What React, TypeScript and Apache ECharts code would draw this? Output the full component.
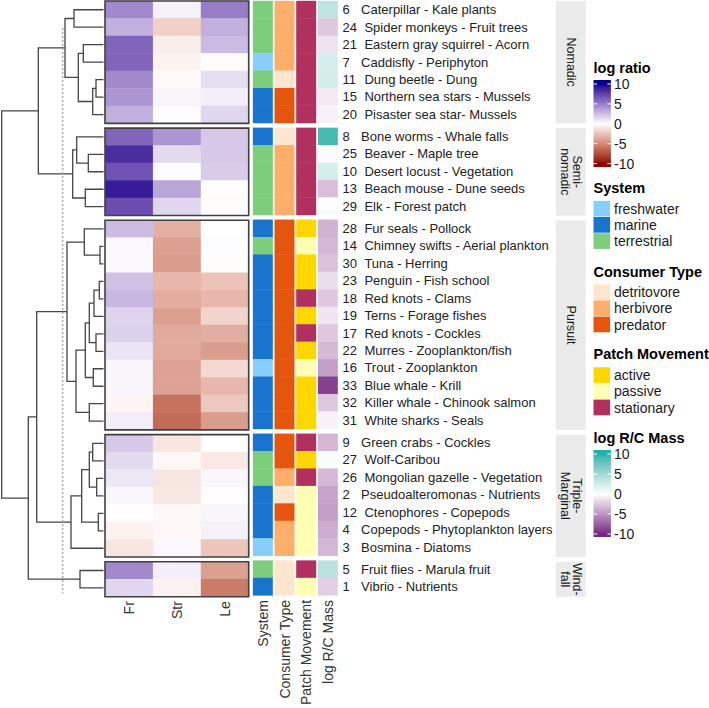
import React, { useEffect, useRef } from "react";
import * as echarts from "echarts";

// ---------------- data ----------------
const heatColumns = ["Fr", "Str", "Le"];
const annotationColumns = ["System", "Consumer Type", "Patch Movement", "log R/C Mass"];
const groupNames = ["Nomadic", "Semi-\nnomadic", "Pursuit", "Triple-\nMarginal", "Wind-\nfall"];
const groupSizes = [7, 5, 12, 7, 2];
const rowIds = [6, 24, 21, 7, 11, 15, 20, 8, 25, 10, 13, 29, 28, 14, 30, 23, 18, 19, 17, 22, 16, 33, 32, 31, 9, 27, 26, 2, 12, 4, 3, 5, 1];
const rowNames = [
  "Caterpillar - Kale plants", "Spider monkeys - Fruit trees", "Eastern gray squirrel - Acorn", "Caddisfly - Periphyton",
  "Dung beetle - Dung", "Northern sea stars - Mussels", "Pisaster sea star- Mussels",
  "Bone worms - Whale falls", "Beaver - Maple tree", "Desert locust - Vegetation", "Beach mouse - Dune seeds", "Elk - Forest patch",
  "Fur seals - Pollock", "Chimney swifts - Aerial plankton", "Tuna - Herring", "Penguin - Fish school", "Red knots - Clams",
  "Terns - Forage fishes", "Red knots - Cockles", "Murres - Zooplankton/fish", "Trout - Zooplankton", "Blue whale - Krill",
  "Killer whale - Chinook salmon", "White sharks - Seals",
  "Green crabs - Cockles", "Wolf-Caribou", "Mongolian gazelle - Vegetation", "Pseudoalteromonas - Nutrients",
  "Ctenophores - Copepods", "Copepods - Phytoplankton layers", "Bosmina - Diatoms",
  "Fruit flies - Marula fruit", "Vibrio - Nutrients",
];
const frValues = [4.5, 3, 6, 6, 4.5, 4, 3, 6, 8.3, 6.8, 9, 7, 2.5, 0.2, 0.2, 2.3, 2.7, 1.6, 1.7, 1, 0.4, 0.4, -0.4, 0.6, 2, 1.4, 0.9, 0.3, 0.05, -0.5, -1.1, 4.5, 1.5];
const strValues = [0.5, -2, -0.7, -0.5, -0.2, 0.4, 0.1, 4, 1.4, 0.1, 3.4, 1.5, -3.3, -4, -4.2, -3, -3.5, -4, -3.6, -3.6, -3.9, -3.9, -6, -6.3, -1.1, -0.35, -1.1, -1, -0.25, -0.35, 0.25, 0.6, -0.5];
const leValues = [5, 3, 2.5, -0.1, 1.2, 0.6, 1.5, 2, 2, 1.9, 0.05, -0.15, 0, 0.15, -0.1, -2.5, -3, -1.8, -3.4, -4.2, -1.6, -3, -2.3, -4.2, 0, -0.9, 0.3, 0, 0.35, 0.5, -2.4, -4, -5.6];
const systemValues = [
  "terrestrial", "terrestrial", "terrestrial", "freshwater", "terrestrial", "marine", "marine",
  "marine", "terrestrial", "terrestrial", "terrestrial", "terrestrial",
  "marine", "terrestrial", "marine", "marine", "marine", "marine", "marine", "marine", "freshwater", "marine", "marine", "marine",
  "marine", "terrestrial", "terrestrial", "marine", "marine", "marine", "freshwater",
  "terrestrial", "marine",
];
const consumerValues = [
  "herbivore", "herbivore", "herbivore", "herbivore", "detritovore", "predator", "predator",
  "detritovore", "herbivore", "herbivore", "herbivore", "herbivore",
  "predator", "predator", "predator", "predator", "predator", "predator", "predator", "predator", "predator", "predator", "predator", "predator",
  "predator", "predator", "herbivore", "detritovore", "predator", "herbivore", "herbivore",
  "detritovore", "detritovore",
];
const patchValues = [
  "stationary", "stationary", "stationary", "stationary", "stationary", "stationary", "stationary",
  "stationary", "stationary", "stationary", "stationary", "stationary",
  "active", "passive", "active", "active", "stationary", "active", "stationary", "active", "passive", "active", "active", "active",
  "stationary", "active", "stationary", "passive", "passive", "passive", "passive",
  "stationary", "passive",
];
const rcMassValues = [3.5, -2.5, -1.3, 2.2, 2.5, -1, -0.6, 9, -0.2, 2.2, -3, 0.2, -3.5, -3.3, -2.8, -1.5, -2.5, -1.2, -2.5, -3.2, -4.5, -9, -2.5, -0.6, -3.3, 0.4, -3.2, -4.2, -4.5, -3.8, -3.3, 3.8, -2.2];
const systemCategories = ["freshwater", "marine", "terrestrial"];
const consumerCategories = ["detritovore", "herbivore", "predator"];
const patchCategories = ["active", "passive", "stationary"];
const legendTicks = [10, 5, 0, -5, -10];
// dendrogram merges: [node, child, child, height]; numeric children are row ids
const dendroMerges: [string, number | string, number | string, number][] = [
  ["A", 6, 24, 29.5], ["B", 21, 7, 20.2], ["C", 11, 15, 7.5], ["D", "C", 20, 10.8], ["E", "B", "D", 25.2], ["F", "A", "E", 38.5],
  ["I", 25, 10, 15.2], ["J", 8, "I", 26.8], ["K", 13, 29, 18.2], ["H", "J", "K", 30.8], ["G", "F", "H", 65.2],
  ["P", 14, 30, 3.5], ["Q", 28, "P", 19.2], ["W", 23, 18, 4.2], ["X", "W", 19, 9.5], ["Y", 17, 22, 7.5], ["U", "X", "Y", 14.2],
  ["V", 16, 33, 10.2], ["S", "U", "V", 18.2], ["T", 32, 31, 14.2], ["R", "S", "T", 27.5], ["N", "Q", "R", 36.5],
  ["a", 9, 27, 10.8], ["b", 26, 2, 6.8], ["c", "a", "b", 14.2], ["d", 12, 4, 5.2], ["e", "c", "d", 21.8], ["f", "e", 3, 32.5],
  ["M", "N", "f", 66.8], ["Z", 5, 1, 23.5], ["L", "M", "Z", 75.2], ["root", "G", "L", 101.8],
];
const dendroMax = 101.8;
const cutHeight = 40.8;

// ---------------- styling ----------------
const FONT = "'Liberation Sans', Arial, sans-serif";
const SYSTEM_COLORS: Record<string, string> = { freshwater: "#87CEFA", marine: "#1874CD", terrestrial: "#7CCD7C" };
const CONSUMER_COLORS: Record<string, string> = { detritovore: "#FEE6CE", herbivore: "#FDAE6B", predator: "#E6550D" };
const PATCH_COLORS: Record<string, string> = { active: "#FFD700", passive: "#FFFFB3", stationary: "#B03060" };
const HEAT = { low: "#8B0000", mid: "#FFFFFF", high: "#00008B" };
const RC = { low: "#762A83", mid: "#FFFFFF", high: "#20B2AA" };

function hexToLab(hex: string): number[] {
  const n = parseInt(hex.slice(1), 16);
  const [r, g, b] = [(n >> 16) & 255, (n >> 8) & 255, n & 255].map((c) => {
    const v = c / 255;
    return v <= 0.04045 ? v / 12.92 : Math.pow((v + 0.055) / 1.055, 2.4);
  });
  const X = (0.4124564 * r + 0.3575761 * g + 0.1804375 * b) / 0.95047;
  const Y = 0.2126729 * r + 0.7151522 * g + 0.072175 * b;
  const Z = (0.0193339 * r + 0.119192 * g + 0.9503041 * b) / 1.08883;
  const f = (t: number) => (t > 0.008856 ? Math.cbrt(t) : 7.787 * t + 16 / 116);
  const fx = f(X), fy = f(Y), fz = f(Z);
  return [116 * fy - 16, 500 * (fx - fy), 200 * (fy - fz)];
}
function labToHex(lab: number[]): string {
  const [L, a, b] = lab;
  const fy = (L + 16) / 116, fx = fy + a / 500, fz = fy - b / 200;
  const inv = (t: number) => (t * t * t > 0.008856 ? t * t * t : (t - 16 / 116) / 7.787);
  const X = inv(fx) * 0.95047, Y = inv(fy), Z = inv(fz) * 1.08883;
  const r = 3.2404542 * X - 1.5371385 * Y - 0.4985314 * Z;
  const g = -0.969266 * X + 1.8760108 * Y + 0.041556 * Z;
  const bb = 0.0556434 * X - 0.2040259 * Y + 1.0572252 * Z;
  const enc = (c: number) => {
    const v = c <= 0.0031308 ? 12.92 * c : 1.055 * Math.pow(c, 1 / 2.4) - 0.055;
    return Math.round(Math.max(0, Math.min(1, v)) * 255);
  };
  return "#" + [r, g, bb].map(enc).map((v) => v.toString(16).padStart(2, "0")).join("");
}
function divColor(pal: { low: string; mid: string; high: string }, v: number, lim: number) {
  const t = Math.max(-1, Math.min(1, v / lim));
  const A = hexToLab(pal.mid);
  const B = hexToLab(t < 0 ? pal.low : pal.high);
  const s = Math.abs(t);
  return labToHex([A[0] + (B[0] - A[0]) * s, A[1] + (B[1] - A[1]) * s, A[2] + (B[2] - A[2]) * s]);
}
function stops(pal: { low: string; mid: string; high: string }) {
  const out: string[] = [];
  for (let i = 0; i <= 40; i++) out.push(divColor(pal, -10 + i * 0.5, 10));
  return out;
}

// ---------------- layout helpers ----------------
const GAP = 0.272;
const TOTAL = rowIds.length + GAP * (groupSizes.length - 1);
const rowPos: number[] = [];
const groupRanges: number[][] = [];
{
  let start = 0;
  groupSizes.forEach((size) => {
    for (let j = 0; j < size; j++) rowPos.push(start + j);
    groupRanges.push([start, start + size]);
    start += size + GAP;
  });
}

function buildDendro() {
  const leafY: Record<string, number> = {};
  rowIds.forEach((id, i) => (leafY[String(id)] = rowPos[i] + 0.5));
  const nodeY: Record<string, number> = {};
  const nodeH: Record<string, number> = {};
  return dendroMerges.map(([name, c1, c2, h]) => {
    const get = (c: number | string) => (typeof c === "number" ? [leafY[String(c)], 0] : [nodeY[c], nodeH[c]]);
    const [y1, h1] = get(c1);
    const [y2, h2] = get(c2);
    nodeY[name] = (y1 + y2) / 2;
    nodeH[name] = h;
    return [h, y1, y2, h1, h2];
  });
}

function buildLegend() {
  const els: any[] = [];
  const LX = 593.5;
  const title = (text: string, y: number) =>
    els.push({ type: "text", x: LX, y, style: { text, fill: "#000", font: `bold 14.5px ${FONT}`, align: "left", verticalAlign: "middle" } });
  const label = (text: string, y: number) =>
    els.push({ type: "text", x: 614, y, style: { text, fill: "#1a1a1a", font: `14px ${FONT}`, align: "left", verticalAlign: "middle" } });
  const bar = (pal: any, top: number, t10: number, tm10: number, bottom: number) => {
    const H = bottom - top;
    const yOf = (v: number) => t10 + ((10 - v) / 20) * (tm10 - t10);
    const colorStops: any[] = [{ offset: 0, color: divColor(pal, 10, 10) }];
    for (let i = 0; i <= 40; i++) {
      const v = 10 - i * 0.5;
      colorStops.push({ offset: (yOf(v) - top) / H, color: divColor(pal, v, 10) });
    }
    colorStops.push({ offset: 1, color: divColor(pal, -10, 10) });
    els.push({ type: "rect", shape: { x: LX, y: top, width: 17.4, height: H }, style: { fill: { type: "linear", x: 0, y: 0, x2: 0, y2: 1, colorStops } } });
    legendTicks.forEach((v) => {
      const y = yOf(v);
      els.push({ type: "line", shape: { x1: LX, y1: y, x2: LX + 3.6, y2: y }, style: { stroke: "#fff", lineWidth: 1 } });
      els.push({ type: "line", shape: { x1: LX + 13.8, y1: y, x2: LX + 17.4, y2: y }, style: { stroke: "#fff", lineWidth: 1 } });
      label(String(v), y);
    });
  };
  const keys = (cats: string[], colors: Record<string, string>, top: number) => {
    cats.forEach((c, i) => {
      const y = top + i * 16.2;
      els.push({ type: "rect", shape: { x: LX, y, width: 16.6, height: 15.7 }, style: { fill: colors[c] } });
      label(c, y + 8);
    });
  };
  title("log ratio", 67.5);
  bar(HEAT, 80, 84, 163.6, 167);
  title("System", 188.3);
  keys(systemCategories, SYSTEM_COLORS, 200.8);
  title("Consumer Type", 271.7);
  keys(consumerCategories, CONSUMER_COLORS, 284.2);
  title("Patch Movement", 354.2);
  keys(patchCategories, PATCH_COLORS, 367.2);
  title("log R/C Mass", 437.7);
  bar(RC, 450, 454, 534, 537);
  return els;
}

export default function App() {
  const ref = useRef<HTMLDivElement>(null);
  useEffect(() => {
    if (!ref.current) return;
    const chart = echarts.init(ref.current, undefined, { renderer: "svg" });

    const heatData: number[][] = [];
    [frValues, strValues, leValues].forEach((vals, c) => vals.forEach((v, i) => heatData.push([c, rowPos[i], v])));
    const catData: number[][] = [];
    for (let c = 0; c < 3; c++) rowIds.forEach((_, i) => catData.push([c, rowPos[i], i]));
    const rcData = rcMassValues.map((v, i) => [3, rowPos[i], v]);
    const labelData = rowIds.map((_, i) => [3, rowPos[i], i]);
    const boxData = groupRanges.map((r) => [0, r[0], r[1]]);
    const stripData = groupRanges.map((r, gi) => [0.5, r[0], r[1], gi]);
    const dendroData = buildDendro();
    const cutData = [[cutHeight, 1.545, 33.88]];

    const axisLabel = { rotate: 90, fontSize: 14, color: "#333", margin: 4.5, fontFamily: FONT };
    const grids = [
      { left: 1.7, top: 1, width: dendroMax, height: 595.7 },
      { left: 105, top: 1, width: 143.7, height: 595.7 },
      { left: 252, top: 1, width: 86.7, height: 595.7 },
      { left: 556, top: 1, width: 29.7, height: 595.7 },
    ];
    const yAxes = grids.map((_, gi) => ({ type: "value", gridIndex: gi, min: 0, max: TOTAL, inverse: true, show: false }));

    const cellRect = (api: any, inset: number, color: string) => {
      const c = api.value(0), p = api.value(1);
      const top = api.coord([c, p]);
      const bot = api.coord([c, p + 1]);
      const bw = api.size([1, 0])[0];
      return {
        type: "rect",
        shape: { x: top[0] - bw / 2 + inset, y: top[1] - 0.2, width: bw - 2 * inset + (inset ? 0 : 0.4), height: bot[1] - top[1] + 0.4 },
        style: { fill: color },
      };
    };

    const option: any = {
      animation: false,
      grid: grids,
      xAxis: [
        { type: "value", gridIndex: 0, min: 0, max: dendroMax, inverse: true, show: false },
        { type: "category", gridIndex: 1, data: heatColumns, axisLine: { show: false }, axisTick: { show: false }, axisLabel, splitLine: { show: false } },
        { type: "category", gridIndex: 2, data: annotationColumns, axisLine: { show: false }, axisTick: { show: false }, axisLabel, splitLine: { show: false } },
        { type: "value", gridIndex: 3, min: 0, max: 1, show: false },
      ],
      yAxis: yAxes,
      visualMap: [
        { type: "continuous", show: false, min: -10, max: 10, dimension: 2, seriesIndex: 1, inRange: { color: stops(HEAT) } },
        { type: "continuous", show: false, min: -10, max: 10, dimension: 2, seriesIndex: 4, inRange: { color: stops(RC) } },
      ],
      graphic: { elements: buildLegend() },
      series: [
        {
          type: "custom", xAxisIndex: 0, yAxisIndex: 0, silent: true, data: dendroData,
          renderItem: (_: any, api: any) => {
            const h = api.value(0), y1 = api.value(1), y2 = api.value(2), h1 = api.value(3), h2 = api.value(4);
            const pts = [api.coord([h1, y1]), api.coord([h, y1]), api.coord([h, y2]), api.coord([h2, y2])];
            return { type: "polyline", shape: { points: pts }, style: { stroke: "#454545", lineWidth: 1.3, fill: "none" } };
          },
        },
        {
          type: "custom", xAxisIndex: 1, yAxisIndex: 1, silent: true, data: heatData,
          renderItem: (_: any, api: any) => cellRect(api, 0, api.visual("color")),
        },
        {
          type: "custom", xAxisIndex: 1, yAxisIndex: 1, silent: true, data: boxData, z: 5,
          renderItem: (_: any, api: any) => {
            const bw = api.size([1, 0])[0];
            const a = api.coord([0, api.value(1)]);
            const b = api.coord([2, api.value(2)]);
            return { type: "rect", shape: { x: a[0] - bw / 2, y: a[1], width: b[0] - a[0] + bw, height: b[1] - a[1] }, style: { stroke: "#404040", lineWidth: 1.6, fill: "none" } };
          },
        },
        {
          type: "custom", xAxisIndex: 2, yAxisIndex: 2, silent: true, data: catData,
          renderItem: (_: any, api: any) => {
            const c = api.value(0), ri = api.value(2);
            const color = c === 0 ? SYSTEM_COLORS[systemValues[ri]] : c === 1 ? CONSUMER_COLORS[consumerValues[ri]] : PATCH_COLORS[patchValues[ri]];
            return cellRect(api, 0.85, color);
          },
        },
        {
          type: "custom", xAxisIndex: 2, yAxisIndex: 2, silent: true, data: rcData,
          renderItem: (_: any, api: any) => cellRect(api, 0.85, api.visual("color")),
        },
        {
          type: "custom", xAxisIndex: 2, yAxisIndex: 2, silent: true, data: labelData,
          renderItem: (_: any, api: any) => {
            const ri = api.value(2);
            const p = api.coord([3, api.value(1) + 0.5]);
            const bw = api.size([1, 0])[0];
            const x0 = p[0] + bw / 2 + 3.7;
            const id = rowIds[ri];
            const txt = { fill: "#222", font: `13px ${FONT}`, align: "left", verticalAlign: "middle" };
            return {
              type: "group",
              children: [
                { type: "text", x: x0, y: p[1], style: { ...txt, text: String(id) } },
                { type: "text", x: x0 + (id < 10 ? 18.7 : 22), y: p[1], style: { ...txt, text: rowNames[ri] } },
              ],
            };
          },
        },
        {
          type: "custom", xAxisIndex: 3, yAxisIndex: 3, silent: true, data: stripData,
          renderItem: (_: any, api: any) => {
            const a = api.coord([0, api.value(1)]);
            const b = api.coord([1, api.value(2)]);
            const gi = api.value(3);
            return {
              type: "group",
              children: [
                { type: "rect", shape: { x: a[0], y: a[1], width: b[0] - a[0], height: b[1] - a[1] }, style: { fill: "#EBEBEB" } },
                {
                  type: "text", x: (a[0] + b[0]) / 2, y: (a[1] + b[1]) / 2, rotation: -Math.PI / 2,
                  style: { text: groupNames[gi], fill: "#1a1a1a", font: `12.5px ${FONT}`, align: "center", verticalAlign: "middle", lineHeight: 12 },
                },
              ],
            };
          },
        },
        {
          type: "custom", xAxisIndex: 0, yAxisIndex: 0, silent: true, data: cutData, z: 3,
          renderItem: (_: any, api: any) => {
            const a = api.coord([api.value(0), api.value(1)]);
            const b = api.coord([api.value(0), api.value(2)]);
            return { type: "line", shape: { x1: a[0], y1: a[1], x2: b[0], y2: b[1] }, style: { stroke: "#ababab", lineWidth: 1.5, lineDash: [2, 2] } };
          },
        },
      ],
    };
    chart.setOption(option);
    return () => chart.dispose();
  }, []);
  return <div ref={ref} style={{ position: "absolute", left: 0, top: 0, width: 709, height: 708, background: "#fff" }} />;
}
